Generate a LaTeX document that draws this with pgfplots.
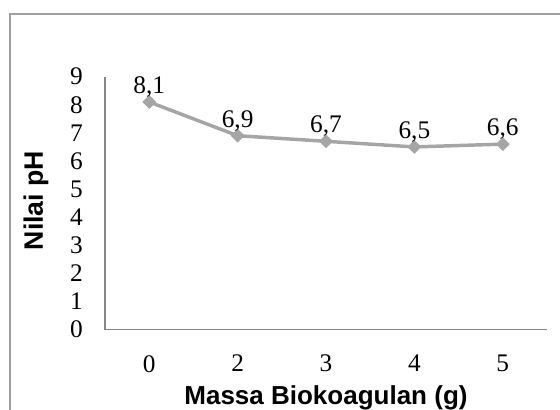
\documentclass[border=0pt]{standalone}
\usepackage{fontspec}
\setmainfont{Liberation Serif}
\newfontfamily\arialfont{Liberation Sans}
\usepackage{pgfplots}
\pgfplotsset{compat=1.18}
\definecolor{linegray}{HTML}{A5A5A5}
\definecolor{axgray}{HTML}{868686}
\definecolor{framegray}{HTML}{A0A0A0}
\begin{document}
\begin{tikzpicture}[x=0.75pt,y=0.75pt]
\begin{axis}[
  at={(0,0)}, anchor=south west,
  scale only axis,
  width=331.5pt, height=189.7pt,
  xmin=-0.5, xmax=4.5,
  ymin=0, ymax=9,
  axis x line=bottom, axis y line=left,
  axis line style={-, axgray, line width=0.8pt},
  xtick={0,1,2,3,4}, xticklabels={0,2,3,4,5},
  ytick={0,1,...,9},
  major tick length=0pt,
  tick style={draw=none},
  /pgf/number format/assume math mode=true,
  ticklabel style={font=\fontsize{19}{21}\selectfont, inner sep=0pt},
  yticklabel style={anchor=east, xshift=-16.5pt},
  xticklabel style={anchor=north, yshift=-19pt},
  xlabel={\arialfont\bfseries Massa Biokoagulan (g)},
  ylabel={\arialfont\bfseries Nilai pH},
  xlabel style={font=\fontsize{19.5}{21}\selectfont, at={(axis description cs:0.5,0)}, anchor=base, yshift=-56.5pt, inner sep=0pt},
  ylabel style={font=\fontsize{20}{22}\selectfont, at={(axis description cs:0,0.51)}, anchor=base, yshift=46.5pt, inner sep=0pt},
  clip=false,
]
\addplot[color=linegray, line width=2.6pt, mark=square*, mark size=3.4pt,
  mark options={rotate=45, fill=linegray, draw=linegray, line width=0.5pt},
  nodes near coords, point meta=explicit symbolic,
  every node near coord/.style={anchor=base, yshift=6.4pt, inner sep=0pt, font=\fontsize{19}{21}\selectfont, text=black}]
coordinates {
(0,8.1) [8,1]
(1,6.9) [6,9]
(2,6.7) [6,7]
(3,6.5) [6,5]
(4,6.6) [6,6]
};
\end{axis}
\draw[framegray, line width=1.3pt] (-95,-80.4) -- (-95,315.6) -- (455,315.6);
\pgfresetboundingbox
\useasboundingbox (-105,-80.4) rectangle (455,329.6);
\end{tikzpicture}
\end{document}
